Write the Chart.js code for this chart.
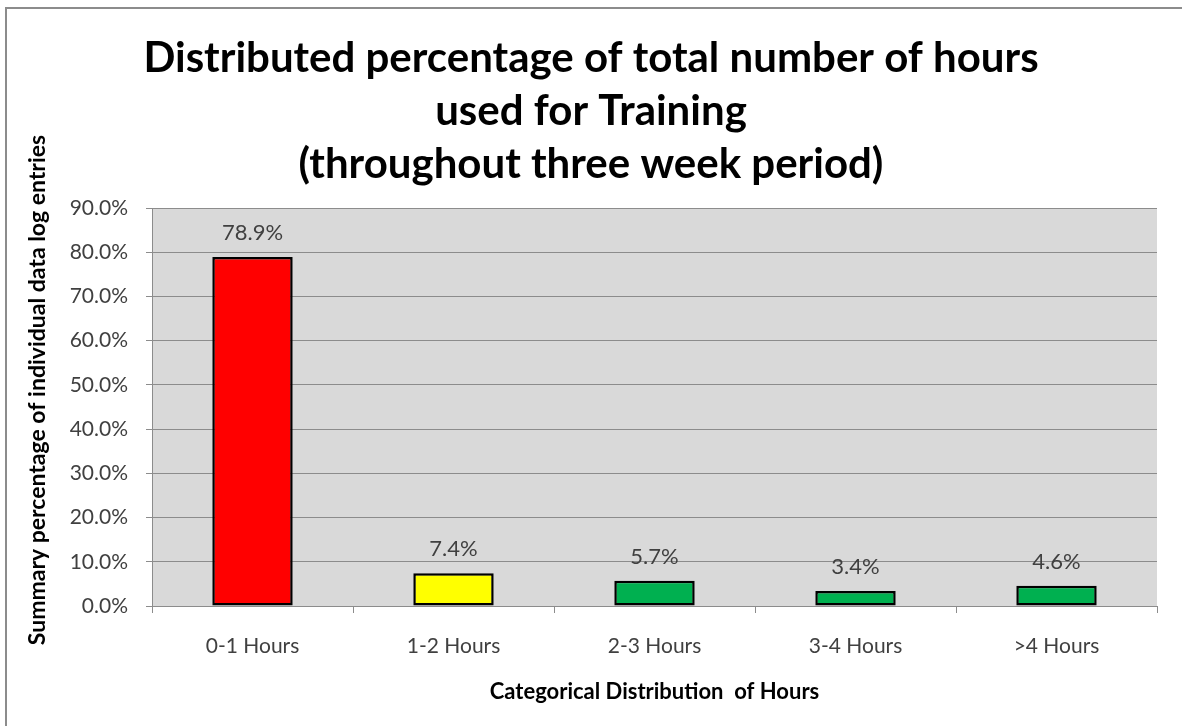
<!DOCTYPE html>
<html>
<head>
<meta charset="utf-8">
<script src="https://cdn.jsdelivr.net/npm/chart.js@4.4.1/dist/chart.umd.min.js"></script>
<style>
  html, body { margin: 0; padding: 0; background: #ffffff; overflow: hidden; }
  #wrap { width: 1182px; height: 726px; position: relative; }
  canvas { display: block; }
</style>
</head>
<body>
<div id="wrap"><canvas id="c" width="1182" height="726"></canvas></div>
<script>
const categories = ['0-1 Hours', '1-2 Hours', '2-3 Hours', '3-4 Hours', '>4 Hours'];
const values = [78.9, 7.4, 5.7, 3.4, 4.6];
const barColors = ['#ff0000', '#ffff00', '#00b050', '#00b050', '#00b050'];
const titleLines = ['Distributed percentage of total number of hours', 'used for Training', '(throughout three week period)'];
const yTitle = 'Summary percentage of individual data log entries';
const xTitle = 'Categorical Distribution  of Hours';
const yMin = 0, yMax = 90, yStep = 10;

const FONT = 'Lato, "Open Sans", sans-serif';

const framePlugin = {
  id: 'frame',
  beforeDraw(chart) {
    const ctx = chart.ctx;
    ctx.save();
    ctx.fillStyle = '#ffffff';
    ctx.fillRect(0, 0, chart.width, chart.height);
    const a = chart.chartArea;
    ctx.fillStyle = '#d9d9d9';
    ctx.fillRect(a.left, a.top, a.right - a.left, a.bottom - a.top);
    ctx.restore();
  },
  afterDraw(chart) {
    const ctx = chart.ctx;
    ctx.save();
    ctx.fillStyle = '#ffffff';
    ctx.fillRect(1165, 0, 30, chart.height);
    ctx.strokeStyle = '#8c8c8c';
    ctx.lineWidth = 2;
    ctx.beginPath();
    ctx.moveTo(6, chart.height + 5);
    ctx.lineTo(6, 8);
    ctx.lineTo(chart.width + 5, 8);
    ctx.stroke();
    ctx.restore();
  }
};

const labelPlugin = {
  id: 'barLabels',
  afterDatasetsDraw(chart) {
    const ctx = chart.ctx;
    const meta = chart.getDatasetMeta(0);
    ctx.save();
    ctx.font = '22px ' + FONT;
    ctx.fillStyle = '#404040';
    ctx.textAlign = 'center';
    ctx.textBaseline = 'middle';
    meta.data.forEach((bar, i) => {
      ctx.fillText(values[i].toFixed(1) + '%', bar.x, bar.y - 24);
    });
    // y-axis title
    ctx.font = 'bold 23px ' + FONT;
    ctx.fillStyle = '#000000';
    ctx.translate(38, 390);
    ctx.rotate(-Math.PI / 2);
    ctx.fillText(yTitle, 0, 0);
    ctx.restore();
  }
};

new Chart(document.getElementById('c'), {
  type: 'bar',
  data: {
    labels: categories,
    datasets: [{
      data: values,
      yAxisID: 'y',
      backgroundColor: barColors,
      borderColor: '#000000',
      borderWidth: 2.5,
      borderSkipped: false,
      categoryPercentage: 1.0,
      barPercentage: 0.4
    }]
  },
  options: {
    responsive: false,
    animation: false,
    devicePixelRatio: 1,
    layout: { padding: { left: 0, right: 0, top: 0, bottom: 0 } },
    plugins: {
      legend: { display: false },
      tooltip: { enabled: false },
      title: {
        display: true,
        text: titleLines,
        color: '#000000',
        font: { family: FONT, size: 42, weight: 'bold', lineHeight: 53 / 42 },
        padding: { top: 31.5, bottom: 17.5 }
      }
    },
    scales: {
      x: {
        afterFit(scale) { scale.height = 120; },
        grid: {
          display: true,
          offset: true,
          drawOnChartArea: false,
          drawTicks: true,
          tickLength: 7,
          color: '#8c8c8c'
        },
        border: { display: true, color: '#8c8c8c', width: 1 },
        ticks: {
          color: '#404040',
          font: { family: FONT, size: 21 },
          padding: 21,
          maxRotation: 0
        },
        title: {
          display: true,
          text: xTitle,
          color: '#000000',
          font: { family: FONT, size: 22, weight: 'bold' },
          padding: { top: 0, bottom: 21 }
        }
      },
      y: {
        min: yMin,
        max: yMax,
        afterFit(scale) { scale.width = 152; },
        grid: {
          color: '#8c8c8c',
          lineWidth: 1,
          drawTicks: true,
          tickLength: 6
        },
        border: { display: true, color: '#8c8c8c', width: 1 },
        ticks: {
          stepSize: yStep,
          color: '#404040',
          font: { family: FONT, size: 21 },
          padding: 18,
          callback: (v) => v.toFixed(1) + '%'
        },
        title: { display: false }
      },
      spacer: {
        type: 'linear',
        position: 'right',
        display: true,
        min: yMin,
        max: yMax,
        afterFit(scale) { scale.width = 25; },
        grid: { display: false, drawOnChartArea: false, drawTicks: false },
        border: { display: false },
        ticks: { display: false },
        title: { display: false }
      }
    }
  },
  plugins: [framePlugin, labelPlugin]
});
</script>
</body>
</html>
